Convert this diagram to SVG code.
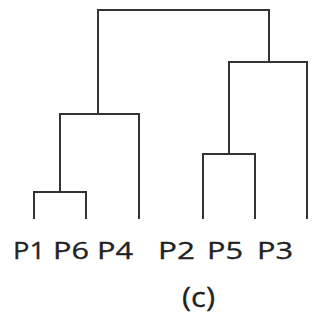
<svg xmlns="http://www.w3.org/2000/svg" width="323" height="330" viewBox="0 0 323 330">
<style>
.link{fill:none;stroke:#333;stroke-width:2;stroke-linecap:square}
.lbl{font-family:"Open Sans","Liberation Sans",sans-serif;font-size:23px;fill:#222;stroke:#222;stroke-width:0.3}
</style>
<rect width="323" height="330" fill="#fff"/>
<g id="connectors">
<path class="link" d="M98,114 V10 H269 V62"/>
<path class="link" d="M60,192 V114 H139 V218"/>
<path class="link" d="M34,218 V192 H86 V218"/>
<path class="link" d="M229,154 V62 H307 V218"/>
<path class="link" d="M203,218 V154 H255 V218"/>
</g>
<g id="P1"><text class="lbl" x="13" y="259" textLength="32" lengthAdjust="spacingAndGlyphs">P1</text></g>
<g id="P6"><text class="lbl" x="53" y="259" textLength="36" lengthAdjust="spacingAndGlyphs">P6</text></g>
<g id="P4"><text class="lbl" x="97" y="259" textLength="36" lengthAdjust="spacingAndGlyphs">P4</text></g>
<g id="P2"><text class="lbl" x="158" y="259" textLength="37" lengthAdjust="spacingAndGlyphs">P2</text></g>
<g id="P5"><text class="lbl" x="207" y="259" textLength="36" lengthAdjust="spacingAndGlyphs">P5</text></g>
<g id="P3"><text class="lbl" x="257" y="259" textLength="36" lengthAdjust="spacingAndGlyphs">P3</text></g>
<g id="caption"><text class="lbl" x="182" y="307" style="font-size:27px" textLength="33" lengthAdjust="spacingAndGlyphs">(c)</text></g>
</svg>
